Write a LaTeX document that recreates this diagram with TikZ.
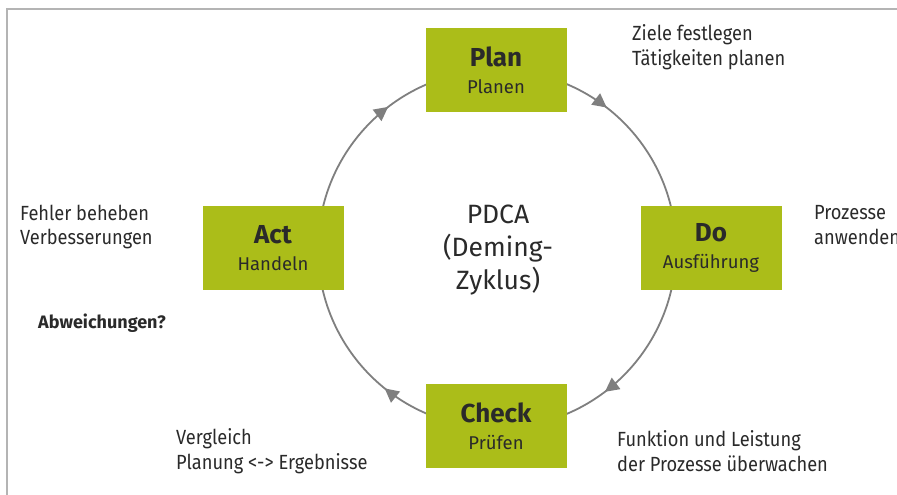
\documentclass[tikz,border=0pt]{standalone}
\usepackage{fontspec}
\setmainfont{Fira Sans}
\newfontfamily\notefont[FakeStretch=0.89]{Fira Sans}
\usetikzlibrary{arrows.meta,decorations.markings}

\definecolor{boxgreen}{HTML}{ABBD19}
\definecolor{ringgray}{HTML}{7F7F7F}
\definecolor{framegray}{HTML}{B4B4B4}
\definecolor{textdark}{HTML}{2A2A2A}

\tikzset{
  phase/.style={fill=boxgreen, minimum width=141pt, minimum height=84pt,
    inner sep=0pt, align=center, text=textdark, font=\fontsize{18.5}{27}\selectfont},
  note/.style={anchor=west, align=left, text=textdark, inner sep=0pt,
    font=\notefont\fontsize{20.5}{24.5}\selectfont},
  ring/.style={draw=ringgray, line width=1.8pt},
  ringhead/.tip={Triangle[length=14pt,width=14pt]},
}
\newcommand{\phasetitle}[1]{{\fontsize{26}{27}\selectfont\bfseries #1}}

\begin{document}
\begin{tikzpicture}[x=1pt,y=-1pt]
  \useasboundingbox (0,0) rectangle (897,495);
  \fill[white] (0,0) rectangle (897,495);

  % page frame (top and left edge)
  \draw[framegray, line width=2pt] (7,495) -- (7,9) -- (897,9);

  % cycle ring with direction marks
  \coordinate (c) at (497,249);
  \draw[ring, postaction={decorate},
    decoration={markings,
      mark=at position 0.105 with {\arrow[ringgray]{ringhead}},
      mark=at position 0.397 with {\arrow[ringgray]{ringhead}},
      mark=at position 0.608 with {\arrow[ringgray]{ringhead}},
      mark=at position 0.896 with {\arrow[ringgray]{ringhead}}}]
    (c) ++(-90:179) arc[start angle=-90, end angle=270, radius=179];

  % phases
  \node[phase] (plan)  at (496,70)  {\phasetitle{Plan}\\Planen};
  \node[phase] (do)    at (711,248) {\phasetitle{Do}\\Ausführung};
  \node[phase] (check) at (496,426) {\phasetitle{Check}\\Prüfen};
  \node[phase] (act)   at (273,248) {\phasetitle{Act}\\Handeln};

  % centre title
  \node[align=center, text=textdark, font=\fontsize{26.5}{33}\selectfont] (title) at (498,250)
    {PDCA\\(Deming-\\Zyklus)};

  % notes beside the phases
  \node[note] (nplan)  at (632,47)  {Ziele festlegen\\Tätigkeiten planen};
  \node[note] (ndo)    at (814,225) {Prozesse\\anwenden};
  \node[note] (nact)   at (20,227)  {Fehler beheben\\Verbesserungen};
  \node[note] (ncheckl) at (176,451) {Vergleich\\Planung <-> Ergebnisse};
  \node[note] (ncheckr) at (617,451) {Funktion und Leistung\\der Prozesse überwachen};
  \node[note, font=\fontsize{18}{20}\selectfont\bfseries] (dev) at (38,323) {Abweichungen?};
\end{tikzpicture}
\end{document}
